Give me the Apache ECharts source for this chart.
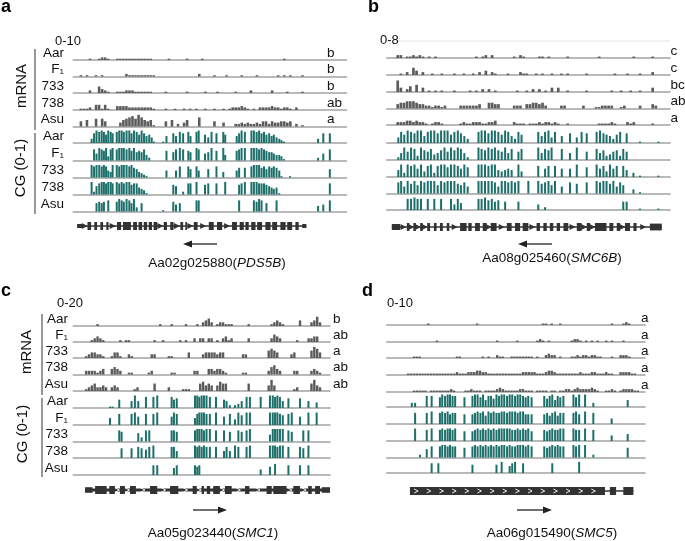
<!DOCTYPE html>
<html><head><meta charset="utf-8">
<script src="https://cdn.jsdelivr.net/npm/echarts@6/dist/echarts.min.js"></script>
<style>html,body{margin:0;padding:0;background:#fff}#c{width:685px;height:541px}</style>
</head><body><div id="c"></div><script>
const FONT = '"Liberation Sans", Arial, Helvetica, sans-serif';
const SAMPLES = ['Aar', 'F\u2081', '733', '738', 'Asu'];

// ---------------- Panel a ----------------
const A_RANGE = '0-10';
const A_LETTERS = ['b', 'b', 'b', 'ab', 'a'];
const A_GENE_ID = 'Aa02g025880';
const A_GENE_SYMBOL = 'PDS5B';
const A_STRAND = -1;
const A_RNA_AAR = [0,0,0,0,0,1,0,0,1,2, 2,1,0,0,1,1,1,1,1,1, 1,1,1,1,1,1,0,0,0,0, 0,1,0,0,0,0,0,1,0,0, 0,0,1,0,0,0,0,0,0,0, 0,0,0,0,0,0,0,0,0,0, 0,0,0,0,0,0,0,0,0,1, 0,0,0,0,0,0,0,0,0,0, 0,0,0,0,0,0,0,0,0,0];
const A_RNA_F1 = [0,0,1,0,1,0,0,1,0,1, 0,0,0,0,0,0,0,2,1,1, 1,1,1,1,1,1,1,0,0,0, 0,0,0,0,0,0,0,0,0,0, 0,2,0,0,0,0,1,0,0,0, 1,0,0,0,0,1,0,0,0,0, 1,0,0,0,0,0,0,1,0,1, 0,1,0,0,0,1,0,0,0,0, 0,0,0,0,0,0,0,0,0,0];
const A_RNA_733 = [0,0,0,0,0,2,0,0,5,3, 2,1,0,0,1,1,1,2,2,2, 1,1,1,1,1,1,0,0,0,0, 1,0,0,0,0,0,0,1,0,0, 0,0,0,1,0,0,0,1,0,0, 0,0,0,1,0,0,0,0,2,0, 0,0,0,0,0,2,0,0,0,0, 1,0,0,0,0,1,0,0,0,0, 0,0,0,0,0,0,0,0,0,0];
const A_RNA_738 = [0,0,1,1,1,2,0,4,4,1, 4,1,0,0,3,3,3,3,2,2, 2,2,2,2,2,2,1,0,0,0, 1,0,0,1,0,0,1,0,1,0, 1,0,0,1,0,0,1,0,0,1, 0,1,2,2,2,3,2,1,0,1, 0,2,2,2,2,3,2,2,1,2, 2,1,0,2,0,0,0,0,0,0, 0,0,0,0,0,0,0,0,0,0];
const A_RNA_ASU = [0,0,4,0,5,0,0,6,0,6, 4,0,0,0,0,3,5,6,7,8, 6,9,7,5,4,5,1,0,0,0, 4,0,5,0,2,0,3,5,0,0, 0,7,0,0,0,0,4,0,0,3, 0,0,0,2,2,3,2,3,2,2, 3,2,4,4,2,4,3,3,4,4, 3,4,0,2,0,1,0,0,0,0, 0,0,0,0,0,0,0,0,0,0];
const A_CG_POS = [6.7,7.6,8.5,9.5,10.4, 11.2,12,12.8,13.7,14.4, 15.9,16.8,17.7,18.5,19.5, 20.5,21.3,22.2,23.2,24.1, 25,25.9,26.8,27.8,28.7, 29.5,32.9,34.1,36.6,37.6, 39,40.2,42.1,42.9,45.1, 45.9,48.2,49.4,50.6,52.4, 54.9,55.6,59.8,60.7,61.6, 62.8,65.2,66.1,67.1,68, 68.9,69.8,70.7,71.7,72.6, 73.4,74.4,75.4,76.2,77.1, 78,79.3,89.6,91.5,93.9];
const A_CG_AAR = [3,7,9,8,9, 8,6,9,8,7, 8,9,9,8,9, 9,7,9,8,6, 9,7,5,6,4, 1,1,5,7,5, 8,7,8,5,8, 9,6,4,8,7, 8,6,5,7,9, 8,9,9,8,9, 7,8,6,7,5, 6,4,3,2,1, 0,0,3,7,7];
const A_CG_F1 = [0,8,5,9,8, 7,9,3,8,9, 8,9,9,9,8, 9,7,9,6,7, 6,8,4,2,0, 0,0,7,6,8, 9,8,7,6,9, 8,5,6,9,7, 9,4,7,8,9, 9,9,9,9,8, 9,8,7,6,6, 5,4,4,3,1, 0,0,2,5,8];
const A_CG_733 = [9,8,9,9,8, 9,8,5,4,9, 9,8,9,9,9, 8,9,7,6,4, 3,2,1,0,0, 0,0,5,0,5, 8,0,8,6,8, 5,0,6,0,8, 4,0,5,7,0, 7,8,9,9,9, 7,8,6,8,7, 8,7,5,1,0, 0,1,0,0,6];
const A_CG_738 = [9,2,6,8,9, 9,8,9,9,8, 9,8,9,8,9, 9,7,8,8,5, 4,3,1,0,0, 0,0,0,7,6, 0,2,8,8,9, 0,7,8,0,8, 0,9,0,7,8, 9,9,9,9,8, 8,8,7,6,5, 4,5,1,0,0, 0,0,0,0,8];
const A_CG_ASU = [0,0,6,7,6, 7,0,8,0,0, 7,9,8,7,9, 8,6,9,3,0, 6,0,0,0,0, 0,1,0,7,5, 6,0,0,0,8, 8,0,0,0,0, 0,0,0,8,0, 0,0,8,7,9, 8,0,6,0,0, 0,8,0,0,0, 0,0,4,5,8];
const A_EXONS = [[1.4,3.2,0.5],[5.2,6.5,1],[7.7,8.7,1],[9.9,10.9,1],[12.1,12.9,1],[16,17.5,1],[18.2,21.1,1],[21.9,23.3,1],[23.9,25.2,1],[25.8,27,1],[27.6,28.8,1],[29.4,30.7,1],[33.1,34.3,1],[35.5,36.7,1],[39.2,40.2,1],[41,41.6,1],[44.1,45.5,1],[49.6,51.4,1],[52.6,54.5,1],[58.1,59.9,1],[60.9,62.4,1],[63,64.2,1],[65.1,66.7,1],[67.3,69.1,1],[70.3,72.2,1],[72.8,74.6,1],[75.8,77.7,1],[78.3,80.1,1],[81.3,82.5,1],[83.8,85.3,0.5]];

// ---------------- Panel b ----------------
const B_RANGE = '0-8';
const B_LETTERS = ['c', 'c', 'bc', 'ab', 'a'];
const B_GENE_ID = 'Aa08g025460';
const B_GENE_SYMBOL = 'SMC6B';
const B_STRAND = -1;
const B_RNA_AAR = [0,0,0,2,2,0,1,1,2,1, 2,1,0,1,0,1,0,0,0,0, 0,0,0,0,0,0,0,0,1,0, 1,2,0,2,0,0,0,0,0,0, 1,0,2,1,0,0,0,0,1,1, 0,1,0,0,0,0,0,1,0,0, 0,0,0,0,0,0,0,1,0,0, 0,0,0,0,0,0,0,0,1,0, 0,0,0,0,1,0,0,0,0,0];
const B_RNA_F1 = [0,0,0,0,1,0,2,0,5,3, 0,2,0,0,1,0,0,1,0,0, 0,1,0,0,1,0,0,1,0,2, 0,3,0,2,1,0,0,0,1,0, 0,0,2,1,1,0,0,1,0,1, 0,0,1,0,0,1,0,1,0,0, 0,0,0,1,0,0,0,0,0,0, 0,0,1,0,0,0,1,0,0,0, 1,0,0,0,2,0,0,0,0,0];
const B_RNA_733 = [0,0,0,8,3,0,2,4,0,5, 0,3,0,1,0,1,0,1,0,0, 0,1,0,0,0,0,1,0,1,0, 2,0,2,0,1,0,0,0,0,0, 0,1,0,0,1,0,2,0,2,0, 1,0,3,0,3,0,0,1,0,0, 0,0,0,1,0,0,0,0,0,0, 0,1,0,0,1,0,0,1,0,0, 1,0,0,0,3,0,0,0,0,0];
const B_RNA_738 = [0,0,0,3,4,4,5,5,5,4, 3,3,2,2,1,2,2,1,2,0, 0,0,0,2,2,2,2,2,2,3, 0,0,4,4,3,3,0,0,0,0, 2,2,2,0,3,3,4,4,3,4, 2,0,0,0,0,2,2,0,0,0, 0,0,2,0,0,0,1,1,2,2, 2,2,0,0,1,2,0,0,0,0, 2,0,0,0,3,2,0,0,0,0];
const B_RNA_ASU = [0,0,0,2,2,2,3,3,2,3, 2,2,1,0,1,2,2,1,0,0, 0,0,0,1,2,1,1,2,2,2, 1,1,2,2,3,0,0,0,0,0, 2,1,1,1,0,1,1,1,2,1, 2,2,1,2,1,0,0,1,0,0, 0,0,0,0,0,0,0,1,1,1, 1,2,1,0,0,0,2,1,2,0, 0,0,0,0,1,0,0,0,0,0];
const B_CG_POS = [4.1,5.1,6.2,7.4,8.6, 9.8,10.9,12.1,13.3,14.5, 15.6,16.8,18,19.2,20.4, 21.5,22.7,23.9,25.1,26.2, 27.4,28.6,32.4,33.5,34.7, 35.9,37.1,38.2,39.4,40.6, 41.8,42.9,44.1,45.3,46.5, 47.6,50,53.5,54.7,55.9, 57.1,58.2,59.4,61.8,64.7, 67.1,68.8,70.6,74.1,75.3, 76.5,77.6,78.8,80,81.2, 82.4,83.5,84.7,87.1,89.4, 95.9];
const B_CG_AAR = [4,8,6,9,8, 7,9,9,5,8, 9,9,7,9,9, 9,6,8,9,7, 5,3,8,9,9, 7,9,9,8,6, 9,8,5,3,8, 6,0,8,5,8, 9,4,8,5,7, 4,8,7,8,9, 7,6,5,3,6, 8,0,7,0,1, 1];
const B_CG_F1 = [2,5,9,6,9, 8,3,9,7,6, 8,4,5,7,9, 6,9,7,9,8, 5,2,9,8,7, 9,8,9,7,6, 9,5,8,0,6, 8,0,9,5,8, 7,9,0,8,5, 9,0,6,8,5, 7,3,4,6,7, 3,8,6,0,0, 0];
const B_CG_733 = [5,9,3,9,8, 9,6,9,4,8, 9,3,8,9,9, 7,9,9,8,6, 9,7,9,9,9, 8,9,9,5,4, 5,6,5,0,9, 4,0,8,0,6, 8,0,8,6,6, 9,0,7,9,6, 8,4,9,6,8, 0,8,5,3,1, 1];
const B_CG_738 = [8,9,5,9,7, 9,6,9,8,9, 9,9,6,9,8, 9,9,9,7,6, 8,5,9,9,9, 9,9,8,5,9, 9,8,9,8,9, 0,9,9,7,8, 9,6,9,5,8, 7,0,8,9,8, 9,9,7,9,5, 8,6,0,3,1, 0];
const B_CG_ASU = [0,0,0,8,8, 9,8,8,0,8, 0,8,0,8,0, 0,8,4,8,5, 0,0,8,8,9, 7,8,6,7,0, 6,0,0,0,6, 0,0,4,0,2, 0,0,0,0,0, 0,0,0,0,0, 0,0,0,0,0, 0,6,6,0,1, 1];
const B_EXONS = [[1.8,4.7,0.75],[7.1,8,1],[9.4,10.3,1],[11.8,12.7,1],[14.3,15.3,1],[16.7,17.6,1],[18.8,19.8,1],[21.2,22.1,1],[25.9,28.2,1],[28.8,30,1],[31.2,32.9,1],[33.9,35.3,1],[36.7,38.8,1],[42.4,44.1,1],[45.3,47.1,1],[48,50,1],[52.9,54.1,1],[55.3,56.5,1],[57.6,58.8,1],[60,61.2,1],[62.4,64.1,1],[67.1,68.8,1],[70.6,71.8,1],[73.5,77.6,1],[78.6,80,1],[81.2,82.4,1],[84.1,85.9,1],[87.1,88.2,1],[92.9,97.1,0.85]];

// ---------------- Panel c ----------------
const C_RANGE = '0-20';
const C_LETTERS = ['b', 'ab', 'a', 'ab', 'ab'];
const C_GENE_ID = 'Aa05g023440';
const C_GENE_SYMBOL = 'SMC1';
const C_STRAND = 1;
const C_RNA_AAR = [0,0,0,0,0,0,0,0,1,0, 0,0,0,0,0,0,0,0,0,0, 0,0,0,0,0,0,0,0,0,0, 1,0,0,0,1,0,0,0,0,1, 0,0,0,1,0,2,3,4,2,0, 1,2,2,1,1,1,0,0,0,0, 0,1,0,0,0,0,0,0,0,1, 2,3,2,1,0,0,0,0,0,3, 0,0,0,2,3,5,2,0,0,0];
const C_RNA_F1 = [0,0,0,0,0,0,1,2,3,2, 1,0,0,0,0,0,1,0,1,1, 0,0,0,0,0,0,0,0,1,0, 0,1,0,0,0,0,0,1,0,1, 0,0,2,0,2,2,0,2,2,0, 1,0,2,3,1,2,0,0,0,0, 0,2,0,0,0,0,0,0,0,2, 4,3,2,0,0,0,0,0,1,0, 0,0,2,2,3,3,0,0,0,0];
const C_RNA_733 = [0,0,0,0,1,2,3,3,2,2, 1,0,0,1,3,3,1,0,0,2, 1,0,0,0,0,0,0,2,2,0, 0,0,0,1,1,0,0,0,0,0, 3,0,0,0,0,2,3,3,3,3, 2,3,3,0,0,0,0,0,0,2, 2,0,0,0,0,0,0,0,4,5, 4,3,0,0,0,0,2,3,0,0, 0,0,0,4,6,5,3,0,0,0];
const C_RNA_738 = [0,0,0,0,2,2,2,2,1,2, 3,0,0,3,4,3,2,0,0,1, 1,0,0,0,0,0,1,2,0,0, 0,0,0,0,1,1,0,0,0,0, 0,0,2,2,0,0,0,3,3,2, 3,3,2,1,0,0,0,0,0,1, 1,0,0,0,0,0,0,0,2,4, 5,3,2,0,0,0,0,2,2,0, 0,0,0,2,3,2,1,0,0,0];
const C_RNA_ASU = [0,0,0,0,1,2,3,4,2,2, 3,2,0,2,3,2,0,0,0,0, 0,1,2,0,0,0,0,0,4,0, 0,0,0,2,0,0,0,0,1,1, 1,0,0,0,4,5,3,4,3,0, 3,5,4,4,0,0,0,0,0,0, 0,4,0,0,0,0,0,0,3,6, 3,0,0,0,0,0,0,1,2,0, 0,0,0,4,6,3,2,0,0,0];
const C_CG_POS = [14.3,15.3,17.9,18.8,22.7, 24,25.3,26.6,28.3,29.6, 31.2,32.7,38.3,39.2,40.3, 47.4,48.3,49.1,50,50.9, 51.9,53.2,55.6,58.7,59.7, 61,63,64.3,65.6,67.5, 68.8,73,76.6,77.7,78.6, 79.5,80.5,81.6,83.8,85.1, 88.3,89.6,91.6,94.8];
const C_CG_AAR = [1,1,6,0,5, 9,5,0,8,0, 8,9,8,6,7, 9,9,8,9,9, 9,8,8,6,5, 2,2,3,5,8, 8,8,9,9,8, 9,8,5,7,0, 7,0,5,4];
const C_CG_F1 = [5,0,8,0,8, 9,6,0,8,0, 8,9,6,9,8, 5,8,9,9,9, 8,8,9,6,0, 8,4,9,7,9, 9,0,9,9,9, 9,8,7,8,9, 6,0,9,9];
const C_CG_733 = [0,0,8,7,0, 0,6,3,8,8, 0,0,8,8,7, 8,9,9,9,8, 9,9,8,8,0, 7,0,8,7,8, 9,0,5,9,9, 9,9,9,8,7, 0,8,8,0];
const C_CG_738 = [0,0,0,7,7, 0,8,7,6,8, 9,0,8,8,5, 9,8,9,8,9, 8,8,8,5,8, 5,9,8,0,8, 9,0,9,9,9, 8,9,9,8,0, 8,7,9,0];
const C_CG_ASU = [0,0,0,0,0, 0,0,0,0,0, 7,7,0,5,7, 7,6,7,0,0, 0,0,0,0,0, 0,0,0,0,0, 0,4,6,0,8, 0,0,0,7,0, 7,0,7,0];
const C_EXONS = [[4.6,7.5,0.7],[8.5,13,1],[14,16.2,1],[18.2,20.1,1],[22.1,24.4,1],[29.9,32.7,1],[37.7,40.9,1],[46.5,48.1,1],[50,50.9,1],[52,53.3,1],[54.5,57.1,1],[59.1,61.7,1],[66.9,68.6,1],[75.3,77.3,1],[77.9,83.1,1],[85.7,88.3,1],[91.5,92.9,1],[94.2,96.1,1],[96.8,100,0.7]];

// ---------------- Panel d ----------------
const D_RANGE = '0-10';
const D_LETTERS = ['a', 'a', 'a', 'a', 'a'];
const D_GENE_ID = 'Aa06g015490';
const D_GENE_SYMBOL = 'SMC5';
const D_STRAND = 1;
const D_RNA_AAR = [0,0,0,0,0,0,0,0,0,0, 0,0,0,0,1,0,0,0,0,0, 0,0,0,0,0,0,0,0,0,0, 0,1,0,0,0,0,0,0,0,0, 0,0,0,0,0,0,0,0,0,0, 0,0,0,0,1,1,0,1,0,0, 1,0,0,0,0,0,0,0,0,0, 0,0,0,0,0,0,0,0,1,0, 0,0,1,2,1,0,0,0,0,0];
const D_RNA_F1 = [0,0,0,0,0,0,0,0,0,0, 0,0,0,0,0,0,0,1,0,0, 0,0,0,0,0,0,0,0,0,0, 0,0,0,0,0,0,0,0,1,0, 0,0,0,0,0,1,0,0,0,0, 0,0,1,2,1,0,1,0,0,0, 0,0,0,0,1,2,2,1,0,1, 0,1,0,1,0,0,1,0,1,0, 0,0,1,0,0,0,0,0,0,0];
const D_RNA_733 = [0,0,0,0,0,0,0,0,0,1, 1,1,0,0,0,0,0,0,0,0, 0,0,0,0,1,1,0,0,0,0, 0,0,0,1,0,1,0,0,2,1, 1,0,0,1,1,1,1,1,1,1, 1,0,1,0,0,2,3,2,2,0, 1,0,0,0,1,1,2,1,2,2, 1,2,2,1,1,0,0,0,1,0, 0,2,2,2,1,0,0,0,0,0];
const D_RNA_738 = [0,0,0,0,0,0,0,1,1,1, 1,1,1,1,1,1,1,1,1,1, 1,1,1,1,2,1,1,1,2,2, 2,3,3,2,2,1,1,1,1,1, 1,1,1,1,1,1,1,2,2,2, 2,2,1,1,1,2,3,3,2,1, 1,1,1,1,1,1,1,2,1,1, 1,2,2,1,1,1,2,1,1,0, 0,2,2,2,2,1,1,0,0,0];
const D_RNA_ASU = [0,0,0,0,0,0,0,0,0,1, 1,1,1,1,0,1,1,1,1,1, 1,1,2,1,0,0,0,1,1,2, 1,1,1,0,1,1,1,1,2,3, 2,1,1,1,1,1,2,2,1,1, 1,0,1,1,1,1,0,1,1,0, 1,1,2,2,1,2,3,2,2,2, 2,3,2,1,0,0,1,1,2,1, 0,1,2,2,2,2,1,1,0,0];
const D_CG_POS = [9.7,11,12.9,15.5,17.4, 20,20.6,21.5,22.6,23.6, 24.5,25.5,26.5,30.1,33.2, 34.2,35.2,36.3,37.3,38.3, 39.4,40.4,41.4,42.5,43.5, 44.5,45.5,46.6,47.6,48.6, 49.7,50.7,51.7,52.8,53.8, 54.8,56.1,61,62.1,63.1, 64.1,65.2,66.2,67.2,68.4, 72.3,73.3,74.5,76.8,80, 87.1,93.3];
const D_CG_AAR = [3,3,0,8,8, 0,7,9,8,9, 9,8,8,7,8, 9,9,7,9,5, 8,8,6,9,8, 9,9,8,9,9, 8,9,9,8,7, 8,7,8,6,8, 9,5,8,7,8, 9,7,9,9,3, 0,5];
const D_CG_F1 = [0,8,0,8,9, 0,8,9,8,9, 7,8,8,7,7, 8,9,8,9,6, 9,8,9,8,8, 9,9,8,9,9, 9,8,9,9,7, 7,7,7,8,6, 8,9,6,8,8, 8,9,7,9,8, 4,0];
const D_CG_733 = [0,9,0,8,9, 0,8,9,8,9, 9,8,9,7,7, 8,9,8,9,8, 9,8,9,8,9, 9,9,9,9,8, 8,9,8,9,8, 9,7,8,7,8, 9,8,8,9,9, 9,8,8,9,8, 4,5];
const D_CG_738 = [0,0,2,6,8, 0,8,9,9,8, 9,8,8,7,8, 9,8,9,8,9, 8,9,8,9,8, 9,9,8,9,8, 8,9,9,9,8, 9,8,8,7,8, 9,8,9,8,8, 9,8,9,9,2, 0,7];
const D_CG_ASU = [0,0,0,0,7, 7,0,0,0,0, 0,0,0,0,6, 0,0,0,0,0, 0,0,0,6,0, 8,0,0,5,7, 8,0,0,7,0, 0,0,0,0,0, 7,0,0,0,0, 0,0,8,0,0, 0,0];
const D_EXONS = [[9,84.5,1],[86.4,88.8,1],[91.6,95.5,1]];

// ---------------- layout (positions / styles only) ----------------
const PANELS = [
  {letter:'a', range:A_RANGE, letters:A_LETTERS, rna:[A_RNA_AAR,A_RNA_F1,A_RNA_733,A_RNA_738,A_RNA_ASU],
   cgPos:A_CG_POS, cg:[A_CG_AAR,A_CG_F1,A_CG_733,A_CG_738,A_CG_ASU], exons:A_EXONS, id:A_GENE_ID, sym:A_GENE_SYMBOL, strand:A_STRAND,
   L:73.3, R:346.5, yMax:10, rnaBase:[60,76.5,93,110,126.5], cgBase:[143,160.5,177.5,194.5,211.5],
   labels:true, labelR:64, letterX:327, rangeXY:[55,41], pl:[1,7], geneY:226, intronW:1.5, chevron:'dark',
   arrow:[217,183,244], nameXY:[217,263], brk:{x:35, rna:[49,130], cg:[133,214], rnaLbl:[22,86], cgLbl:[21,168]}},
  {letter:'b', range:B_RANGE, letters:B_LETTERS, rna:[B_RNA_AAR,B_RNA_F1,B_RNA_733,B_RNA_738,B_RNA_ASU],
   cgPos:B_CG_POS, cg:[B_CG_AAR,B_CG_F1,B_CG_733,B_CG_738,B_CG_ASU], exons:B_EXONS, id:B_GENE_ID, sym:B_GENE_SYMBOL, strand:B_STRAND,
   L:386.7, R:670, yMax:9, rnaBase:[58,75,92,108.5,125], cgBase:[143,160,177,193.5,210],
   labels:false, letterX:670.5, rangeXY:[380,40], pl:[368,7], geneY:227, intronW:1.5, chevron:'dark', topLine:41,
   arrow:[552,518,244], nameXY:[552,258]},
  {letter:'c', range:C_RANGE, letters:C_LETTERS, rna:[C_RNA_AAR,C_RNA_F1,C_RNA_733,C_RNA_738,C_RNA_ASU],
   cgPos:C_CG_POS, cg:[C_CG_AAR,C_CG_F1,C_CG_733,C_CG_738,C_CG_ASU], exons:C_EXONS, id:C_GENE_ID, sym:C_GENE_SYMBOL, strand:C_STRAND,
   L:73.3, R:330, yMax:7, rnaBase:[326,342,358,374.5,391], cgBase:[408,425,441.5,458,475],
   labels:true, labelR:68, letterX:333, rangeXY:[57,303], pl:[1,291], geneY:490, intronW:3, chevron:'light',
   arrow:[193,227,510], nameXY:[213,533], brk:{x:42, rna:[314,395], cg:[398,477], rnaLbl:[27,352], cgLbl:[23,434]}},
  {letter:'d', range:D_RANGE, letters:D_LETTERS, rna:[D_RNA_AAR,D_RNA_F1,D_RNA_733,D_RNA_738,D_RNA_ASU],
   cgPos:D_CG_POS, cg:[D_CG_AAR,D_CG_F1,D_CG_733,D_CG_738,D_CG_ASU], exons:D_EXONS, id:D_GENE_ID, sym:D_GENE_SYMBOL, strand:D_STRAND,
   L:386.7, R:645, yMax:9, rnaBase:[325,342,358,375,392], cgBase:[407,424,441,457.5,473],
   labels:false, letterX:641, rangeXY:[387,303], pl:[362,291], geneY:491, intronW:1.5, chevron:'inbox',
   arrow:[517,552,510], nameXY:[552,533]}
];

const RNA_H = 13, CG_H = 12.5, EXH = 0.8;
const BASE_COLOR = '#a3a3a3', RNA_COLOR = '#5c5c5c', CG_COLOR = '#1d6f6a', GENE_COLOR = '#333333';

const grids = [], xAxes = [], yAxes = [], series = [], graphics = [];

function addGrid(L, R, top, h, yMin, yMax, showLine) {
  const idx = grids.length;
  grids.push({left: L, top: top, width: R - L, height: h});
  xAxes.push({gridIndex: idx, type: 'value', min: 0, max: 100,
    axisLine: {show: showLine, onZero: false, lineStyle: {color: BASE_COLOR, width: 1.5}},
    axisTick: {show: false}, axisLabel: {show: false}, splitLine: {show: false}});
  yAxes.push({gridIndex: idx, type: 'value', min: yMin, max: yMax, show: false});
  return idx;
}
function txt(x, y, text, o) {
  o = o || {};
  graphics.push({type: 'text', x: x, y: y, rotation: o.rot || 0, silent: true, z: 10,
    style: {text: text, fill: o.fill || '#111', fontSize: o.size || 13, fontFamily: FONT,
      fontWeight: o.weight || 'normal', align: o.align || 'left', verticalAlign: o.va || 'middle', rich: o.rich}});
}
function ln(x1, y1, x2, y2, c, w) {
  graphics.push({type: 'line', silent: true, shape: {x1, y1, x2, y2}, style: {stroke: c, lineWidth: w}});
}

PANELS.forEach(p => {
  // mRNA coverage tracks (one bar per bin)
  p.rna.forEach((arr, k) => {
    const gi = addGrid(p.L, p.R, p.rnaBase[k] - RNA_H, RNA_H, 0, p.yMax, true);
    series.push({type: 'bar', xAxisIndex: gi, yAxisIndex: gi, silent: true, barWidth: (p.R - p.L) / arr.length * 0.85,
      data: arr.map((v, i) => [(i + 0.5) * 100 / arr.length, v]), itemStyle: {color: RNA_COLOR}});
    txt(p.letterX, p.rnaBase[k] - 7, p.letters[k], {size: 13.5});
    if (p.labels) txt(p.labelR, p.rnaBase[k] - 7, SAMPLES[k], {align: 'right', size: 13.5});
  });
  // CG methylation tracks
  p.cg.forEach((arr, k) => {
    const gi = addGrid(p.L, p.R, p.cgBase[k] - CG_H, CG_H, 0, 1, true);
    series.push({type: 'bar', xAxisIndex: gi, yAxisIndex: gi, barWidth: 2, silent: true,
      data: p.cgPos.map((pos, i) => [pos, arr[i] / 9]), itemStyle: {color: CG_COLOR}});
    if (p.labels) txt(p.labelR, p.cgBase[k] - 7, SAMPLES[k], {align: 'right', size: 13.5});
  });
  // gene model
  const gg = addGrid(p.L, p.R, p.geneY - 5, 10, -1, 1, false);
  const gStart = p.exons[0][0], gEnd = p.exons[p.exons.length - 1][1];
  series.push({type: 'line', xAxisIndex: gg, yAxisIndex: gg, symbol: 'none', silent: true,
    data: [[gStart, 0], [gEnd, 0]], lineStyle: {color: GENE_COLOR, width: p.intronW}});
  series.push({type: 'custom', xAxisIndex: gg, yAxisIndex: gg, silent: true, data: p.exons,
    renderItem: (params, api) => {
      const a = api.coord([api.value(0), api.value(2) * EXH]);
      const b = api.coord([api.value(1), -api.value(2) * EXH]);
      return {type: 'rect', shape: {x: a[0], y: a[1], width: b[0] - a[0], height: b[1] - a[1]}, style: {fill: GENE_COLOR}};
    }});
  // strand chevrons
  const chev = [];
  if (p.chevron === 'inbox') {
    const ex = p.exons[0];
    for (let x = ex[0] + 2.4; x < ex[1] - 1; x += 4.9) chev.push([x]);
  } else {
    for (let i = 1; i < p.exons.length; i++) {
      const g0 = p.exons[i - 1][1], g1 = p.exons[i][0];
      if (g1 - g0 > 1.4) chev.push([(g0 + g1) / 2]);
    }
  }
  const cColor = p.chevron === 'dark' ? GENE_COLOR : '#ffffff';
  const cSize = p.chevron === 'dark' ? 3 : 2;
  series.push({type: 'custom', xAxisIndex: gg, yAxisIndex: gg, silent: true, data: chev, z: 5,
    renderItem: (params, api) => {
      const c = api.coord([api.value(0), 0]);
      const d = p.strand * cSize;
      if (p.chevron === 'dark') {
        return {type: 'polygon', shape: {points: [[c[0] - d, c[1]], [c[0] + d, c[1] - cSize], [c[0] + d, c[1] + cSize]]}, style: {fill: cColor}};
      }
      return {type: 'polyline', shape: {points: [[c[0] - d, c[1] - cSize], [c[0] + d, c[1]], [c[0] - d, c[1] + cSize]]}, style: {stroke: cColor, lineWidth: 0.9, fill: null}};
    }});
  // arrow under gene model
  const [ax0, ax1, ay] = p.arrow;
  const dir = Math.sign(ax1 - ax0);
  ln(ax0, ay, ax1 - dir * 6, ay, '#222', 1.3);
  graphics.push({type: 'polygon', silent: true, shape: {points: [[ax1, ay], [ax1 - dir * 9, ay - 3.5], [ax1 - dir * 9, ay + 3.5]]}, style: {fill: '#222'}});
  // gene name
  txt(p.nameXY[0], p.nameXY[1], p.id + '({i|' + p.sym + '})',
      {align: 'center', size: 13.5, rich: {i: {fontStyle: 'italic', fontSize: 13.5, fontFamily: FONT, fill: '#111'}}});
  // range label and panel letter
  txt(p.rangeXY[0], p.rangeXY[1], p.range, {size: 13});
  txt(p.pl[0], p.pl[1], p.letter, {size: 18, weight: 'bold', fill: '#000'});
  if (p.topLine) ln(p.rangeXY[0] + 16, p.topLine, p.R, p.topLine, '#e4e4e4', 1);
  if (p.brk) {
    ln(p.brk.x, p.brk.rna[0], p.brk.x, p.brk.rna[1], '#555', 1.2);
    ln(p.brk.x, p.brk.cg[0], p.brk.x, p.brk.cg[1], '#555', 1.2);
    txt(p.brk.rnaLbl[0], p.brk.rnaLbl[1], 'mRNA', {align: 'center', rot: Math.PI / 2, size: 15});
    txt(p.brk.cgLbl[0], p.brk.cgLbl[1], 'CG (0-1)', {align: 'center', rot: Math.PI / 2, size: 15});
  }
});

const chart = echarts.init(document.getElementById('c'), null, {renderer: 'canvas'});
chart.setOption({animation: false, backgroundColor: '#ffffff', grid: grids, xAxis: xAxes, yAxis: yAxes, series: series, graphic: graphics});
</script></body></html>
